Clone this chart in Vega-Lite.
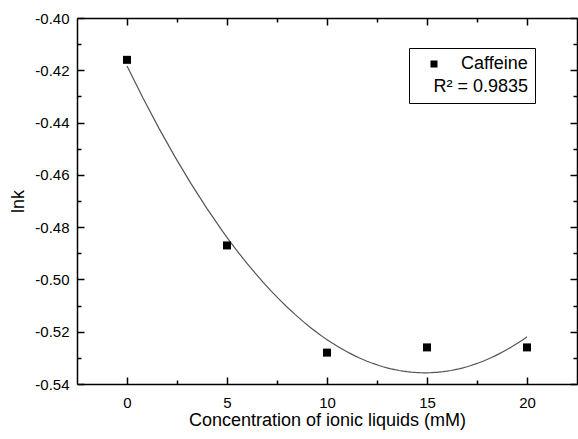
{
  "$schema": "https://vega.github.io/schema/vega-lite/v6.json",
  "width": 500,
  "height": 366,
  "autosize": {"type": "none"},
  "padding": {"left": 77, "top": 18, "right": 1, "bottom": 55},
  "background": "white",
  "config": {
    "view": {"stroke": null},
    "font": "Liberation Sans",
    "axis": {
      "grid": false,
      "domainColor": "black",
      "tickColor": "black",
      "labelColor": "black",
      "titleColor": "black",
      "domainWidth": 1.5,
      "tickWidth": 1.5,
      "labelFont": "Liberation Sans",
      "titleFont": "Liberation Sans",
      "labelFontSize": 15,
      "titleFontSize": 18,
      "titleFontWeight": "normal"
    }
  },
  "data": {
    "values": [
      {"Concentration": 0, "Ink": -0.416, "series": "Caffeine"},
      {"Concentration": 5, "Ink": -0.487, "series": "Caffeine"},
      {"Concentration": 10, "Ink": -0.528, "series": "Caffeine"},
      {"Concentration": 15, "Ink": -0.526, "series": "Caffeine"},
      {"Concentration": 20, "Ink": -0.526, "series": "Caffeine"}
    ]
  },
  "layer": [
    {
      "transform": [{"regression": "Ink", "on": "Concentration", "method": "poly", "order": 2, "extent": [0, 20]}],
      "mark": {"type": "line", "color": "#555555", "strokeWidth": 1.2},
      "encoding": {
        "x": {"field": "Concentration", "type": "quantitative", "scale": {"domain": [-2.5, 22.5], "nice": false, "zero": false},
              "axis": {"orient": "top", "values": [0, 5, 10, 15, 20], "labels": false, "tickSize": -7, "title": null}},
        "y": {"field": "Ink", "type": "quantitative", "scale": {"domain": [-0.54, -0.40], "nice": false, "zero": false},
              "axis": {"orient": "right", "values": [-0.54, -0.52, -0.5, -0.48, -0.46, -0.44, -0.42, -0.4], "labels": false, "tickSize": -7, "title": null}}
      }
    },
    {
      "mark": {"type": "point", "shape": "square", "filled": true, "size": 64, "opacity": 1},
      "encoding": {
        "x": {"field": "Concentration", "type": "quantitative",
              "axis": {"orient": "bottom", "values": [0, 5, 10, 15, 20], "tickSize": -7, "labelPadding": 18, "title": "Concentration of ionic liquids (mM)", "titlePadding": 1}},
        "y": {"field": "Ink", "type": "quantitative",
              "axis": {"orient": "left", "values": [-0.54, -0.52, -0.5, -0.48, -0.46, -0.44, -0.42, -0.4], "format": ".2f",
                       "labelExpr": "replace(datum.label, '−', '-')", "tickSize": -7, "labelPadding": 15, "title": "lnk", "titlePadding": 7}},
        "color": {"field": "series", "type": "nominal", "scale": {"range": ["black"]},
                  "legend": {"orient": "none", "legendX": 332, "legendY": 30, "title": "R² = 0.9835", "titleOrient": "bottom", "titleAnchor": "end",
                             "titleFontSize": 18, "titleFontWeight": "normal", "titleFont": "Liberation Sans", "titleColor": "black",
                             "labelFontSize": 18, "labelFont": "Liberation Sans", "labelColor": "black", "labelOffset": 18,
                             "symbolType": "square", "symbolSize": 49, "symbolFillColor": "black", "symbolStrokeWidth": 0, "symbolOffset": 9,
                             "strokeColor": "black", "padding": 7, "titlePadding": 5}}
      }
    },
    {
      "mark": {"type": "point", "opacity": 0},
      "encoding": {
        "x": {"field": "Concentration", "type": "quantitative",
              "axis": {"orient": "bottom", "values": [2.5, 7.5, 12.5, 17.5], "labels": false, "tickSize": -4, "domain": false, "title": null}},
        "y": {"field": "Ink", "type": "quantitative",
              "axis": {"orient": "left", "values": [-0.53, -0.51, -0.49, -0.47, -0.45, -0.43, -0.41], "labels": false, "tickSize": -4, "domain": false, "title": null}}
      }
    },
    {
      "mark": {"type": "point", "opacity": 0},
      "encoding": {
        "x": {"field": "Concentration", "type": "quantitative",
              "axis": {"orient": "top", "values": [2.5, 7.5, 12.5, 17.5], "labels": false, "tickSize": -4, "domain": false, "title": null}},
        "y": {"field": "Ink", "type": "quantitative",
              "axis": {"orient": "right", "values": [-0.53, -0.51, -0.49, -0.47, -0.45, -0.43, -0.41], "labels": false, "tickSize": -4, "domain": false, "title": null}}
      }
    }
  ],
  "resolve": {"axis": {"x": "independent", "y": "independent"}}
}
